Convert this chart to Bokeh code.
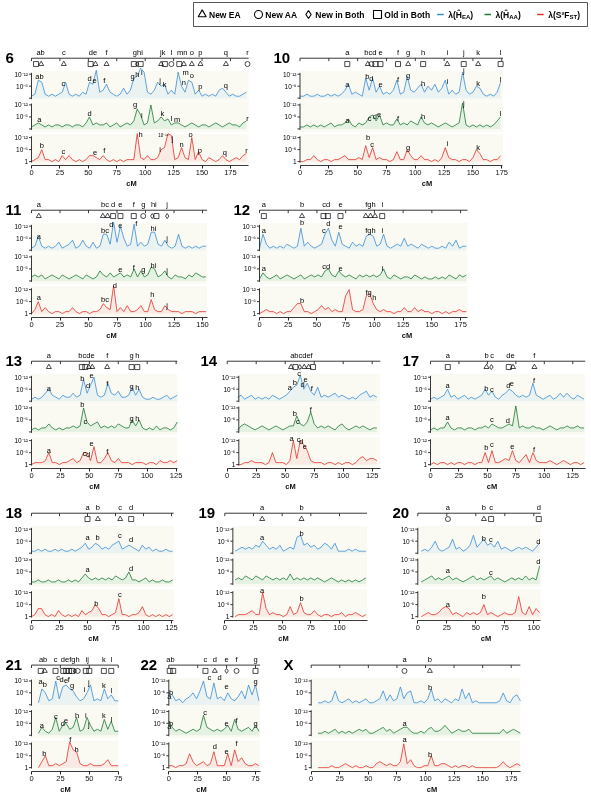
import numpy as np
from bokeh.plotting import figure
from bokeh.layouts import column, row
from bokeh.models import Range1d, FixedTicker, ColumnDataSource, InlineStyleSheet
from bokeh.embed import file_html
from bokeh.resources import INLINE
from bokeh.core.properties import value

FONT = "Liberation Sans"
STEP = 3  # cM between successive values

# ---------------- data: -log10(lambda) values every 3 cM ----------------
C6_START = 0
C6_EA = [1,2,9,8,2,1,2,1,2,3, 8,2,1,2,1,3,2,8,7,14, 3,4,7,3,2,1,2,5,2,4, 10,11,15,13,3,2,4,8,6,7, 2,4,2,13,6,3,9,8,2,4, 1,2,1,2,1,4,5,3,1,2, 1,1,2,3]
C6_AA = [1,2,3,2,1,2,1,2,2,1, 2,2,1,2,2,1,3,6,2,3, 2,2,3,1,2,3,1,2,3,2, 4,10,7,2,3,12,3,4,6,4, 5,2,3,3,2,1,2,3,2,1, 2,2,1,2,3,2,1,2,3,2, 2,1,3,4]
C6_FST = [0,1,2,6,1,1,0,1,0,3, 1,3,1,0,1,0,1,3,3,2, 1,3,1,0,1,0,1,0,1,1, 1,14,2,1,3,1,1,2,6,7, 14,13,1,2,7,2,1,12,1,5, 1,0,2,1,0,1,3,1,0,1, 2,1,3,4]
C6_TOP = ["ab","c","de","f","ghi","jk","l","mn","o","p","q","r"]
C6_TOP_CM = [8,28.4,54,66,93.5,115.5,123,132.5,141,148.6,171,190]
C6_MARKS = ["s","t","t","s","t","t","s","d","s","t","s","c","s","t","t","t","t","c"]
C6_MARK_CM = [4,8.5,28.4,52,56.3,66,90,93,96,114,117.3,123,130,134,141,148.6,171,190]
C6_EA_LBL = [("ab",7,11),("c",28,7.5),("d",51,10),("e",55.5,9),("f",64,9),("g",89,11),("h",93,12),("i",97,13),("j",113,8.7),("k",117,7),("m",135.5,13),("n",134,8),("o",141,11.5),("p",148.6,6),("q",171,6.5)]
C6_AA_LBL = [("a",7,4.5),("d",51,7.5),("g",91,12),("i",97,6.7),("k",115,7.5),("l",123,5),("m",128,4.5),("r",190,5)]
C6_FST_LBL = [("b",9,8),("c",28,5),("e",56,4.5),("f",64,5.5),("h",96,13.5),("i",113,6),("j",124,11.5),("n",132,8.5),("o",140,13.5),("p",148,5.5),("q",170,4.5),("r",189,5.5)]

C10_START = 0
C10_EA = [1,1,2,1,1,2,1,1,2,1, 2,1,2,4,7,2,3,2,1,10, 4,10,3,6,2,3,2,4,9,2, 3,11,4,3,5,7,3,6,4,7, 3,5,9,2,4,2,3,13,4,2, 3,6,5,2,1,2,1,3,8]
C10_AA = [1,1,2,1,2,1,2,1,2,3, 1,2,2,3,5,2,1,3,2,3, 6,7,4,7,2,3,2,2,5,2, 3,2,4,3,2,6,3,2,3,2, 1,2,3,2,1,2,3,13,2,1, 2,1,2,1,2,1,2,4,6]
C10_FST = [0,0,1,1,3,1,0,1,1,0, 1,1,2,3,1,1,1,2,1,8, 2,7,1,2,1,1,0,1,5,1, 1,6,3,1,1,3,1,1,0,1, 0,2,7,2,1,1,0,1,1,0, 2,6,4,1,1,0,1,1,3]
C10_TOP = ["a","bcd","e","f","g","h","i","j","k","l"]
C10_TOP_CM = [41,61,69.8,85,93.8,106.8,127.7,142,154.5,174]
C10_MARKS = ["s","t","c","s","s","s","t","s","t","s","t","s"]
C10_MARK_CM = [41,58.8,62,65.4,69.8,85,93.8,106.8,127.7,142,154.5,174]
C10_EA_LBL = [("a",41,7),("b",58.5,11),("d",61.8,10),("e",70,7),("f",85,9.5),("g",93.8,11.5),("h",106.8,7.5),("i",127.7,8.5),("j",142,14),("k",154.5,7.5),("l",174,9.5)]
C10_AA_LBL = [("a",41,4),("c",60.4,5),("d",64.8,6.3),("e",68.6,7),("f",85,5),("h",106.8,6),("j",142,12.5),("l",174,7.5)]
C10_FST_LBL = [("b",59,12),("c",62.5,8.5),("g",93.8,7),("i",127.7,9),("k",154.5,7)]

C11_START = 0
C11_EA = [1,2,7,2,1,2,1,2,4,1, 2,3,5,1,2,5,2,1,4,1, 2,8,8,3,14,4,12,6,2,3, 13,2,4,2,3,9,9,3,2,5, 2,1,2,8,2,1,2,1,2,1, 2,2]
C11_AA = [2,3,2,3,1,2,3,2,1,3, 2,1,2,3,2,1,3,2,1,2, 5,3,2,4,2,3,4,2,3,2, 6,2,5,2,3,7,6,2,3,5, 2,1,3,2,2,1,3,2,4,3, 2,2]
C11_FST = [0,2,6,1,3,1,0,1,1,0, 1,1,3,1,0,1,1,0,1,1, 2,5,3,2,14,1,3,1,4,1, 1,2,4,1,1,7,2,1,1,4, 2,1,1,1,0,1,1,1,0,1, 1,1]
C11_TOP = ["a","bc","d","e","f","g","hi","j"]
C11_TOP_CM = [6.4,64.5,71.6,78,89.7,98,107.3,119]
C11_MARKS = ["t","t","t","s","s","s","c","d","s","d"]
C11_MARK_CM = [6.4,62.6,66.7,71.6,78,89.7,98,105.9,109.6,119]
C11_EA_LBL = [("a",6.4,7),("bc",64.5,10),("d",70,13),("e",78,12.5),("f",92,13.5),("hi",107,11),("j",119,6)]
C11_AA_LBL = [("e",78,5.5),("f",89.7,6.5),("g",98,5.5),("hi",107,7.5),("j",119,5)]
C11_FST_LBL = [("a",6.4,8),("bc",64.5,7),("d",73,14),("h",106,9.5),("j",119,4)]

C12_START = 0
C12_EA = [1,8,3,1,2,1,2,1,3,2, 1,2,11,2,4,2,1,2,3,8, 11,5,2,9,3,2,1,4,2,3, 2,7,8,7,2,3,8,2,1,2, 3,2,6,2,3,2,1,3,2,1, 2,1,1,2,1,4,2,5,1,2, 2]
C12_AA = [1,4,2,1,2,3,1,2,3,2, 1,2,3,1,2,3,2,3,2,5, 6,3,2,5,3,2,3,2,1,3, 2,3,2,3,2,3,6,2,1,3, 2,1,2,2,1,3,2,1,2,1, 1,2,1,2,1,3,2,1,3,2, 3]
C12_FST = [0,1,2,1,1,0,1,0,1,1, 3,5,5,1,1,0,1,2,4,2, 3,1,2,1,1,9,12,2,1,1, 2,9,10,5,2,1,2,1,1,0, 1,1,3,1,1,3,1,2,1,1, 0,1,1,0,1,0,1,1,2,1, 1]
C12_TOP = ["a","b","cd","e","fgh","i"]
C12_TOP_CM = [3.8,37,58,70.5,96.6,106.8]
C12_MARKS = ["s","t","s","s","s","t","t","t","s"]
C12_MARK_CM = [3.8,37,55.7,59.5,70.5,92.5,96.6,100.6,106.8]
C12_EA_LBL = [("a",3.8,10),("b",37,14),("c",56,10),("d",60,13.5),("e",70.5,12),("fgh",96.6,10),("i",107,10)]
C12_AA_LBL = [("a",3.8,6),("cd",58,7),("e",70.5,6),("i",107,6)]
C12_FST_LBL = [("b",37,6.5),("fg",95,10.5),("h",100,8)]

C13_START = 0
C13_EA = [1,2,1,2,4,6,3,2,1,3, 2,2,4,2,3,11,4,8,12,3, 2,3,9,4,3,5,2,2,3,7, 3,6,2,1,1,2,1,1,2,3, 1,2,3]
C13_AA = [1,2,1,2,2,4,2,1,2,1, 2,2,3,2,3,12,5,3,4,5, 2,3,2,3,2,4,3,2,2,6, 3,6,2,1,2,1,3,1,2,2, 1,2,5]
C13_FST = [0,1,1,1,2,6,1,1,0,1, 1,2,3,1,2,6,6,2,9,1, 1,3,6,2,1,3,1,1,1,0, 1,1,1,0,1,1,0,2,1,1, 2,1,2]
C13_TOP = ["a","bcde","f","g","h"]
C13_TOP_CM = [15,47.5,65.4,86.5,91.4]
C13_MARKS = ["t","s","s","t","t","t","s","s"]
C13_MARK_CM = [15,43.5,46.5,49.5,52.5,65.4,86.5,91.4]
C13_EA_LBL = [("a",15,6.5),("b",44,11.5),("d",49,8),("e",52,13),("f",65.4,9),("g",86.5,7.5),("h",91.4,7)]
C13_AA_LBL = [("b",44,13.5),("c",46.5,5),("g",86.5,6.5),("h",91.4,6.5)]
C13_FST_LBL = [("a",15,7),("c",46,5.5),("d",49,5),("e",52,10.5),("f",65.4,6.5)]

C14_START = 9
C14_EA = [2,3,1,2,3,1,2,1,2,1, 3,2,1,2,3,5,7,8,13,6, 9,5,3,7,2,3,2,3,4,2, 3,2,1,2,1,3,4,5,2,3, 2]
C14_AA = [1,3,4,3,2,1,2,3,2,1, 2,3,2,1,2,3,3,8,4,3, 5,10,4,2,3,2,3,2,1,3, 4,2,1,2,3,2,3,2,1,2, 2]
C14_FST = [0,0,1,1,2,1,1,1,0,1, 6,1,1,1,0,2,12,3,12,10, 7,2,1,1,1,0,1,1,0,1, 0,1,1,0,1,3,4,2,3,3, 2]
C14_TOP = ["abcdef"]
C14_TOP_CM = [64]
C14_MARKS = ["t","s","d","t","t","s"]
C14_MARK_CM = [55,58.8,62.6,66.4,70.2,74]
C14_EA_LBL = [("a",54,7),("b",58.3,9.5),("c",62,14),("d",65,8.5),("e",67.5,11),("f",73,6.5)]
C14_AA_LBL = [("b",58.3,9),("c",61,5),("f",72,11)]
C14_FST_LBL = [("a",55.5,13),("c",61.5,12.5),("d",64,11.5),("e",67,9)]

C17_START = 0
C17_EA = [1,2,1,2,3,6,2,3,1,2, 3,1,2,1,2,3,6,3,5,2, 1,3,4,6,5,3,2,3,2,3, 9,3,2,1,2,3,1,2,4,2, 4,2,1,3,2,1]
C17_AA = [1,2,1,2,2,5,2,1,2,2, 1,2,2,1,2,2,3,2,4,3, 2,2,3,4,3,13,2,3,2,2, 3,2,2,1,2,3,2,1,2,2, 3,2,2,3,2,2]
C17_FST = [0,1,0,1,1,0,1,0,1,1, 0,1,1,0,1,1,6,1,7,1, 1,2,3,2,7,2,1,3,5,1, 6,2,1,1,1,2,1,0,1,2, 1,0,1,1,0,1]
C17_TOP = ["a","b","c","de","f"]
C17_TOP_CM = [15.2,49.2,54.2,70.3,91.3]
C17_MARKS = ["s","t","d","s","t","t"]
C17_MARK_CM = [15.2,49.2,53.5,68.8,72.5,91.3]
C17_EA_LBL = [("a",15,8),("b",49,6.5),("c",54,6),("d",68.5,8),("e",71.5,9),("f",91,10.5)]
C17_AA_LBL = [("a",15,7),("c",54,6),("d",68,5.5)]
C17_FST_LBL = [("b",49,8.5),("c",54,10),("e",72,9),("f",91,7.5)]

C18_START = 0
C18_EA = [1,1,2,1,2,1,1,2,1,2, 1,1,2,1,2,3,5,2,3,5, 4,2,3,2,4,5,6,2,3,4, 3,2,1,4,2,3,1,2,1,1, 2,1,1]
C18_AA = [1,1,2,1,1,2,1,1,2,1, 1,2,1,2,1,3,5,3,2,3, 2,3,2,3,2,4,3,2,3,6, 2,2,1,2,3,1,2,1,1,2, 1,1,2]
C18_FST = [0,1,4,4,1,0,1,0,3,1, 0,1,0,1,0,3,1,2,3,6, 4,1,1,0,1,2,9,1,1,0, 1,1,2,5,1,0,1,0,1,0, 1,0,1]
C18_TOP = ["a","b","c","d"]
C18_TOP_CM = [50,59.3,79.2,89]
C18_MARKS = ["s","t","t","s"]
C18_MARK_CM = [50,59.3,79.2,89]
C18_EA_LBL = [("a",50,8),("b",59,8),("c",79,9),("d",89,7)]
C18_AA_LBL = [("a",50,7),("d",89,7.5)]
C18_FST_LBL = [("b",58,6.5),("c",79,11)]

C19_START = 9
C19_EA = [1,2,3,2,3,2,4,3,6,4, 2,3,2,4,1,2,3,2,8,9, 4,5,3,4,2,3,5,4,2,5, 1,1,1,2,1,2,1,1,1]
C19_AA = [2,3,2,4,3,2,4,3,2,4, 3,2,3,2,3,2,5,2,3,2, 3,2,3,2,3,2,1,2,3,2, 1,2,1,2,1,2,1,2,3]
C19_FST = [0,1,1,1,2,3,1,1,12,4, 1,2,1,1,0,1,5,1,2,7, 2,1,1,3,1,0,1,1,0,1, 1,2,0,1,1,2,1,0,1]
C19_TOP = ["a","b"]
C19_TOP_CM = [32.6,66.9]
C19_MARKS = ["t","t"]
C19_MARK_CM = [32.6,66.9]
C19_EA_LBL = [("a",32.6,8),("b",67,10)]
C19_AA_LBL = []
C19_FST_LBL = [("a",32.6,13),("b",67,9)]

C20_START = 3
C20_EA = [1,2,1,3,6,2,1,2,3,7, 2,3,1,2,4,9,3,5,7,4, 5,3,6,2,3,2,1,2,3,2, 3,2,1,3,5]
C20_AA = [1,2,3,4,2,3,2,3,4,2, 3,2,1,2,3,4,2,3,2,3, 4,2,3,2,1,2,3,2,3,2, 4,2,3,2,9]
C20_FST = [0,1,2,1,1,2,4,5,4,1, 2,1,0,2,1,2,1,2,6,1, 2,1,0,1,2,1,1,2,10,2, 1,5,1,4,2]
C20_TOP = ["a","b","c","d"]
C20_TOP_CM = [26,57,63.2,104.3]
C20_MARKS = ["c","t","s","s"]
C20_MARK_CM = [26,57,63.2,104.3]
C20_EA_LBL = [("b",57,7.5),("c",63,7),("d",104,6)]
C20_AA_LBL = [("a",26,6.5),("c",63,5.5),("d",104,11)]
C20_FST_LBL = [("a",26,6),("b",57,10)]

C21_START = 6
C21_EA = [1,8,6,2,3,12,3,9,10,8, 7,4,2,3,6,10,2,3,2,8, 3,5,2,2]
C21_AA = [1,4,2,1,3,9,2,5,6,3, 4,9,2,3,9,5,2,3,2,8, 3,7,2,2]
C21_FST = [0,3,6,1,1,2,1,2,3,13, 9,8,2,1,1,2,1,1,1,2, 4,1,1,1]
C21_TOP = ["ab","c","defgh","ij","k","l"]
C21_TOP_CM = [10,20.8,33.5,48.2,62.6,69]
C21_MARKS = ["s","t","s","s","s","s","s","d","c","s","s","s","s"]
C21_MARK_CM = [8,11.5,20.8,27.5,30,32.5,35,37.5,40,47,50,62.6,69]
C21_EA_LBL = [("a",7.8,11.5),("b",11.5,10),("c",23,13.5),("d",26,12.5),("e",30,12),("f",32.3,12.5),("g",35.2,9.5),("i",46,7.5),("j",49.5,11),("k",62.6,9.5),("l",69,7)]
C21_AA_LBL = [("a",9,5),("c",21,9.5),("d",27,6),("e",30,7.5),("h",39.5,10),("i",47,10),("j",49.5,5.5),("k",62.6,10),("l",69,8)]
C21_FST_LBL = [("b",11,7),("f",33.5,14),("h",39,9)]

C22_START = 0
C22_EA = [6,5,2,3,1,3,4,6,3,7, 12,4,3,11,3,4,2,6,3,2, 4,7,3,10,5,10,2]
C22_AA = [7,4,2,3,2,1,2,3,2,3, 10,4,3,2,3,2,3,5,2,8, 3,2,3,4,2,5,2]
C22_FST = [1,1,0,1,1,2,7,3,1,2, 3,1,2,8,1,1,1,7,1,9, 3,5,2,1,1,2,1]
C22_TOP = ["ab","c","d","e","f","g"]
C22_TOP_CM = [1.5,31.7,39.8,50,58.6,75]
C22_MARKS = ["s","s","s","t","d","c","s"]
C22_MARK_CM = [0.8,3.8,31.7,39.8,50,58.6,75]
C22_EA_LBL = [("a",0.5,4),("b",2,6),("c",35,13.5),("d",44,13.5),("e",50,9),("g",75,11.5)]
C22_AA_LBL = [("a",0.5,4.5),("b",2,6),("c",31.5,11.5),("e",50,6),("f",58.6,7.5),("g",75,6)]
C22_FST_LBL = [("d",39.8,10.5),("e",50,8),("f",58.6,12)]

CX_START = 6
CX_EA = [1,1,2,1,2,7,2,1,2,3, 1,2,1,2,3,1,1,2,3,7, 2,5,2,3,9,3,6,7,1,1, 2,1,3,8,2,3,1,3,2,1, 3,2,8,3,6,1,2,1,1,1, 1,1,1,2,6,2,1,4,5,2]
CX_AA = [1,1,2,1,2,3,1,2,1,2, 1,2,3,2,3,1,1,2,3,4, 2,3,1,2,3,4,4,2,1,1, 2,1,3,4,2,2,3,5,3,1, 2,3,2,2,3,1,1,1,1,1, 1,1,1,1,3,1,2,3,2,1]
CX_FST = [0,0,0,0,1,0,0,1,2,1, 0,1,0,0,1,0,0,2,3,2, 1,2,1,1,3,12,2,4,1,0, 0,1,1,6,1,1,2,2,1,0, 1,0,1,1,0,1,0,0,0,0, 0,0,0,1,3,1,0,1,2,1]
CX_TOP = ["a","b"]
CX_TOP_CM = [81.6,103.8]
CX_MARKS = ["c","t"]
CX_MARK_CM = [81.6,103.8]
CX_EA_LBL = [("b",104,8.5)]
CX_AA_LBL = [("a",81.6,6)]
CX_FST_LBL = [("a",81.6,14),("b",104,6.5)]

# ---------------- layout constants ----------------
PXO = 2.05         # px per order of magnitude
FRAME_H = 122
BOTTOM = 22
LINE_Y, MARK_Y, TOPTXT_Y = 110, 104, 115.5
TRACKS = [("EA", 69.0, "#3b8ed3", "#a9d1f1"),
          ("AA", 37.5, "#1e7a35", "#92cc9f"),
          ("FST", 4.0, "#e2342b", "#f6aba6")]
BAND = "#fafaf3"
MARK_NAMES = {"t": "triangle", "c": "circle", "d": "diamond", "s": "square"}
YTICK_TXT = {12: "10\u207b\u00b9\u00b2", 6: "10\u207b\u2076", 0: "1"}
CSS = ":host { will-change: transform; }"


def spec(name, start, ea, aa, fst, top, top_cm, marks, mark_cm, lea, laa, lfst,
         L, fig, origin, scale, num_x, yaxis=0, extra=None):
    return dict(name=name, start=start, EA=ea, AA=aa, FST=fst, top=top, top_cm=top_cm,
                marks=marks, mark_cm=mark_cm, lbl_EA=lea, lbl_AA=laa, lbl_FST=lfst,
                L=L, fig=fig, origin=origin, scale=scale, num_x=num_x, yaxis=yaxis, extra=extra)


def make_panel(s, top_border, bottom=BOTTOM):
    left, right = s["fig"]
    o = s["origin"]
    sc = s["scale"]
    p = figure(width=right - left, height=top_border + FRAME_H + bottom,
               x_range=Range1d((left - o) / sc, (right - o) / sc),
               y_range=Range1d(0, FRAME_H), y_axis_location=None,
               toolbar_location=None, output_backend="svg",
               min_border_left=0, min_border_right=0,
               min_border_top=top_border, min_border_bottom=bottom)
    p.stylesheets = [InlineStyleSheet(css=CSS)]
    p.grid.visible = False
    p.outline_line_color = None
    L, ya = s["L"], s["yaxis"]
    ticks = list(range(0, L + 1, 25))

    ax = p.xaxis[0]
    ax.ticker = FixedTicker(ticks=ticks)
    ax.bounds = (0, L)
    ax.axis_line_color = "#222222"
    ax.axis_line_width = 0.9
    ax.major_tick_line_color = "#222222"
    ax.major_tick_out = 3
    ax.major_tick_in = 0
    ax.minor_tick_line_color = None
    ax.major_label_text_font = FONT
    ax.major_label_text_font_size = "7.5px"
    ax.major_label_text_color = "#111111"
    ax.major_label_standoff = 1
    ax.axis_label = "cM"
    ax.axis_label_text_font = FONT
    ax.axis_label_text_font_size = "7.5px"
    ax.axis_label_text_font_style = "bold"
    ax.axis_label_text_color = "#111111"
    ax.axis_label_standoff = 1

    # panel number
    p.text(x=[(s["num_x"] - o) / sc], y=[110.5], text=[s["name"]],
           text_font=value(FONT), text_font_size="15px", text_font_style="bold",
           text_align="left", text_baseline="alphabetic", text_color="black")

    # top label line with ticks
    p.segment(x0=[0], y0=[LINE_Y], x1=[L], y1=[LINE_Y], line_color="#222222", line_width=0.9)
    p.segment(x0=ticks, y0=[LINE_Y] * len(ticks), x1=ticks, y1=[LINE_Y - 3] * len(ticks),
              line_color="#222222", line_width=0.9)
    p.text(x=s["top_cm"], y=[TOPTXT_Y] * len(s["top"]), text=s["top"],
           text_font=value(FONT), text_font_size="7.5px", text_align="center",
           text_baseline="middle", text_color="black")
    msrc = ColumnDataSource(dict(x=s["mark_cm"], y=[MARK_Y] * len(s["marks"]),
                                 m=[MARK_NAMES[k] for k in s["marks"]]))
    p.scatter(x="x", y="y", marker="m", source=msrc, size=5, fill_color=None,
              line_color="black", line_width=0.7)

    for key, base, col, light in TRACKS:
        p.quad(left=[ya], right=[L], bottom=[base - 3], top=[base + 28],
               fill_color=BAND, line_color=None)

    for key, base, col, light in TRACKS:
        vals = np.array(s[key], dtype=float)
        xs = s["start"] + STEP * np.arange(len(vals))
        ys = base + PXO * vals
        p.varea(x=xs, y1=base, y2=ys, fill_color=light, fill_alpha=0.2)
        p.line(xs, ys, line_color=col, line_width=0.8)
        lb = s["lbl_" + key]
        if lb:
            p.text(x=[t[1] for t in lb], y=[base + PXO * t[2] for t in lb],
                   text=[t[0] for t in lb], text_font=value(FONT), text_font_size="7.5px",
                   text_align="center", text_baseline="middle", text_color="black")
        # y axis for this track
        p.segment(x0=[ya], y0=[base - 1], x1=[ya], y1=[base + 26],
                  line_color="#222222", line_width=0.9)
        tv = [12, 6, 0]
        p.segment(x0=[ya - 2.5 / sc] * 3, y0=[base + PXO * v for v in tv],
                  x1=[ya] * 3, y1=[base + PXO * v for v in tv],
                  line_color="#222222", line_width=0.9)
        lv = [12, 6] + ([0] if key == "FST" else [])
        p.text(x=[ya - 3.5 / sc] * len(lv), y=[base + PXO * v for v in lv],
               text=[YTICK_TXT[v] for v in lv], text_font=value(FONT),
               text_font_size="6.5px", text_align="right", text_baseline="middle",
               text_color="black")
    if s["extra"]:
        for (t, xc, h, trk) in s["extra"]:
            base = dict((k, b) for k, b, c, l in TRACKS)[trk]
            p.text(x=[xc], y=[base + PXO * h], text=[t], text_font=value(FONT),
                   text_font_size="4.5px", text_align="center", text_baseline="middle",
                   text_color="black")
    return p


C6_NOTE = [("10\u207b\u00b9\u2075", 116, 13, "FST")]

ROWS = [
    (18, [spec("6", C6_START, C6_EA, C6_AA, C6_FST, C6_TOP, C6_TOP_CM, C6_MARKS, C6_MARK_CM,
               C6_EA_LBL, C6_AA_LBL, C6_FST_LBL, 191, (0, 262), 31, 1.137, 5, extra=C6_NOTE),
          spec("10", C10_START, C10_EA, C10_AA, C10_FST, C10_TOP, C10_TOP_CM, C10_MARKS, C10_MARK_CM,
               C10_EA_LBL, C10_AA_LBL, C10_FST_LBL, 176, (262, 591), 299.5, 1.153, 273)]),
    (8, [spec("11", C11_START, C11_EA, C11_AA, C11_FST, C11_TOP, C11_TOP_CM, C11_MARKS, C11_MARK_CM,
              C11_EA_LBL, C11_AA_LBL, C11_FST_LBL, 154, (0, 222), 31, 1.14, 5),
         spec("12", C12_START, C12_EA, C12_AA, C12_FST, C12_TOP, C12_TOP_CM, C12_MARKS, C12_MARK_CM,
              C12_EA_LBL, C12_AA_LBL, C12_FST_LBL, 181, (222, 591), 259, 1.149, 233)]),
    (7, [spec("13", C13_START, C13_EA, C13_AA, C13_FST, C13_TOP, C13_TOP_CM, C13_MARKS, C13_MARK_CM,
              C13_EA_LBL, C13_AA_LBL, C13_FST_LBL, 126, (0, 188), 31, 1.157, 5),
         spec("14", C14_START, C14_EA, C14_AA, C14_FST, C14_TOP, C14_TOP_CM, C14_MARKS, C14_MARK_CM,
              C14_EA_LBL, C14_AA_LBL, C14_FST_LBL, 132, (188, 392), 226.7, 1.16, 200, yaxis=10),
         spec("17", C17_START, C17_EA, C17_AA, C17_FST, C17_TOP, C17_TOP_CM, C17_MARKS, C17_MARK_CM,
              C17_EA_LBL, C17_AA_LBL, C17_FST_LBL, 136, (392, 591), 430, 1.138, 402)]),
    (8, [spec("18", C18_START, C18_EA, C18_AA, C18_FST, C18_TOP, C18_TOP_CM, C18_MARKS, C18_MARK_CM,
              C18_EA_LBL, C18_AA_LBL, C18_FST_LBL, 127, (0, 186), 31, 1.12, 5),
         spec("19", C19_START, C19_EA, C19_AA, C19_FST, C19_TOP, C19_TOP_CM, C19_MARKS, C19_MARK_CM,
              C19_EA_LBL, C19_AA_LBL, C19_FST_LBL, 124, (186, 380), 224.3, 1.147, 198, yaxis=7),
         spec("20", C20_START, C20_EA, C20_AA, C20_FST, C20_TOP, C20_TOP_CM, C20_MARKS, C20_MARK_CM,
              C20_EA_LBL, C20_AA_LBL, C20_FST_LBL, 106, (380, 591), 417.3, 1.16, 392)]),
    (8, [spec("21", C21_START, C21_EA, C21_AA, C21_FST, C21_TOP, C21_TOP_CM, C21_MARKS, C21_MARK_CM,
              C21_EA_LBL, C21_AA_LBL, C21_FST_LBL, 75, (0, 130), 31, 1.156, 5),
         spec("22", C22_START, C22_EA, C22_AA, C22_FST, C22_TOP, C22_TOP_CM, C22_MARKS, C22_MARK_CM,
              C22_EA_LBL, C22_AA_LBL, C22_FST_LBL, 79, (130, 272), 168.3, 1.156, 140),
         spec("X", CX_START, CX_EA, CX_AA, CX_FST, CX_TOP, CX_TOP_CM, CX_MARKS, CX_MARK_CM,
              CX_EA_LBL, CX_AA_LBL, CX_FST_LBL, 183, (272, 591), 310.7, 1.143, 283)]),
]
ROW_BOTTOM = [22, 22, 22, 22, 21]

# ---------------- legend ----------------
LEG_SHAPES = ["triangle", "circle", "diamond", "square"]
LEG_SHAPE_TXT = ["New EA", "New AA", "New in Both", "Old in Both"]
LEG_SERIES = [("\u03bb(\u0124", "EA", ")"), ("\u03bb(\u0124", "AA", ")"), ("\u03bb(S\u00b2F", "ST", ")")]
LEG_COLORS = ["#3b8ed3", "#1e7a35", "#e2342b"]


def make_legend():
    lg = figure(width=591, height=28, x_range=Range1d(0, 591), y_range=Range1d(0, 28),
                x_axis_location=None, y_axis_location=None, toolbar_location=None,
                output_backend="svg", min_border=0)
    lg.stylesheets = [InlineStyleSheet(css=CSS)]
    lg.grid.visible = False
    lg.outline_line_color = None
    lg.quad(left=[193], right=[587], bottom=[2], top=[26], fill_color=None,
            line_color="#444444", line_width=0.9)
    sx = [201.7, 258, 308, 377]
    src = ColumnDataSource(dict(x=sx, y=[14] * 4, m=LEG_SHAPES))
    lg.scatter(x="x", y="y", marker="m", source=src, size=8, fill_color=None,
               line_color="black", line_width=1.1)
    lg.text(x=[v + 6.8 for v in sx], y=[14] * 4, text=LEG_SHAPE_TXT, text_font=value(FONT),
            text_font_size="8.5px", text_font_style="bold", text_align="left",
            text_baseline="middle", text_color="black")
    lx = [436.7, 484, 536.7]
    lg.segment(x0=lx, y0=[14] * 3, x1=[v + 6.5 for v in lx], y1=[14] * 3,
               line_color=LEG_COLORS, line_width=1.6)
    widths_main = [13.7, 13.7, 21.3]
    widths_sub = [8.3, 8.7, 7.7]
    for i, (a, b, c) in enumerate(LEG_SERIES):
        x = lx[i] + 11
        lg.text(x=[x], y=[14], text=[a], text_font=value(FONT), text_font_size="8.5px",
                text_font_style="bold", text_align="left", text_baseline="middle",
                text_color="black")
        lg.text(x=[x + widths_main[i]], y=[11.5], text=[b], text_font=value(FONT),
                text_font_size="6px", text_font_style="bold", text_align="left",
                text_baseline="middle", text_color="black")
        lg.text(x=[x + widths_main[i] + widths_sub[i]], y=[14], text=[c], text_font=value(FONT),
                text_font_size="8.5px", text_font_style="bold", text_align="left",
                text_baseline="middle", text_color="black")
    return lg


rows = []
for (top_border, specs), bot in zip(ROWS, ROW_BOTTOM):
    rows.append(row(*[make_panel(s, top_border, bot) for s in specs]))
layout = column(make_legend(), *rows)

open("out.html", "w").write(file_html(layout, INLINE, title="chart"))
